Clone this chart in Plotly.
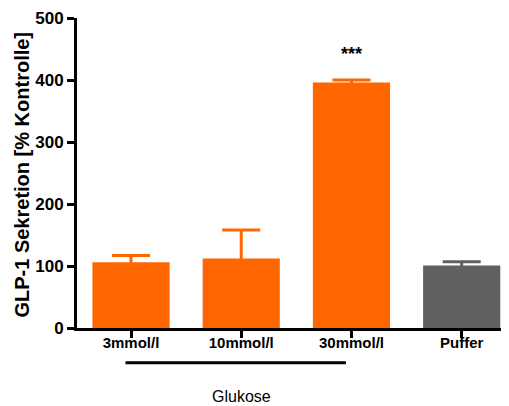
import plotly.graph_objects as go

categories = ["3mmol/l", "10mmol/l", "30mmol/l", "Puffer"]
values = [106, 112, 396, 101]
errors = [11, 46, 4, 6]
bar_colors = ["#FF6600", "#FF6600", "#FF6600", "#606060"]
significance = ["", "", "***", ""]
y_ticks = [0, 100, 200, 300, 400, 500]
group_label = "Glukose"
group_members = [0, 2]

FONT = "Liberation Sans, Arial, sans-serif"

fig = go.Figure()
for color in ["#FF6600", "#606060"]:
    idx = [i for i, c in enumerate(bar_colors) if c == color]
    fig.add_trace(go.Bar(
        x=[categories[i] for i in idx],
        y=[values[i] for i in idx],
        marker=dict(color=color, line=dict(width=0)),
        error_y=dict(type="data", symmetric=True,
                     array=[errors[i] for i in idx],
                     color=color, thickness=3, width=19),
        showlegend=False,
    ))

for i, s in enumerate(significance):
    if s:
        fig.add_annotation(x=categories[i], y=values[i] + errors[i] + 42,
                           text=f"<b>{s}</b>", showarrow=False,
                           font=dict(family=FONT, size=18, color="black"),
                           xref="x", yref="y")

fig.add_shape(type="line", xref="x", yref="paper",
              x0=group_members[0] - 0.05, x1=group_members[1] - 0.05,
              y0=-0.112, y1=-0.112, line=dict(color="black", width=3))
fig.add_annotation(x=(group_members[0] + group_members[1]) / 2, y=-0.2196,
                   xref="x", yref="paper", text=group_label, showarrow=False,
                   font=dict(family=FONT, size=16, color="black"),
                   xanchor="center", yanchor="middle")

fig.add_annotation(x=-0.1276, y=0.495, xref="paper", yref="paper",
                   text="<b>GLP-1 Sekretion [% Kontrolle]</b>", textangle=-90,
                   showarrow=False, xanchor="center", yanchor="middle",
                   font=dict(family=FONT, size=20, color="black"))

fig.update_layout(
    width=501, height=398,
    margin=dict(l=69, r=1, t=8, b=78),
    paper_bgcolor="white", plot_bgcolor="white",
    barmode="overlay", bargap=0.3,
    font=dict(family=FONT, color="black"),
    xaxis=dict(categoryorder="array", categoryarray=categories,
               tickvals=categories, ticktext=[f"<b>{c}</b>" for c in categories],
               range=[-0.49, 3.42], showline=True, linewidth=3, linecolor="black",
               ticks="outside", ticklen=7, tickwidth=3, tickcolor="black",
               tickfont=dict(family=FONT, size=15, color="black"),
               ticklabeloverflow="allow", ticklabelstandoff=-8,
               showgrid=False, zeroline=False, fixedrange=True),
    yaxis=dict(range=[0, 500], tickvals=y_ticks,
               ticktext=[f"<b>{t}</b>" for t in y_ticks],
               showline=True, linewidth=3,
               linecolor="black", ticks="outside", ticklen=7, tickwidth=3,
               tickcolor="black", tickfont=dict(family=FONT, size=17, color="black"),
               ticklabeloverflow="allow",
               showgrid=False, zeroline=False, fixedrange=True),
)

fig.write_html("out.html")
